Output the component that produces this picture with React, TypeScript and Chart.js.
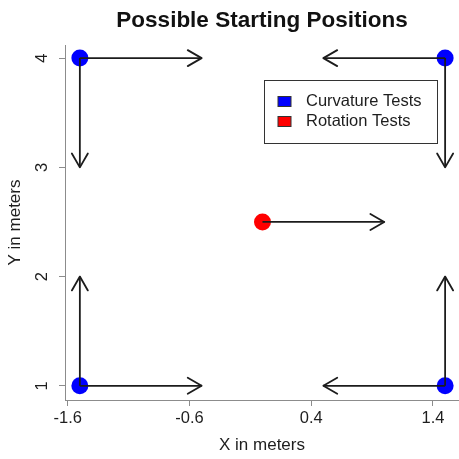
import React, { useEffect, useRef } from "react";
import { Chart, registerables } from "chart.js";

Chart.register(...registerables);

// ---- data ----
const curvatureX = [-1.5, 1.5, -1.5, 1.5];
const curvatureY = [4, 4, 1, 1];
const rotationX = [0];
const rotationY = [2.5];

const arrowFromX = [-1.5, -1.5, 1.5, 1.5, -1.5, -1.5, 1.5, 1.5, 0];
const arrowFromY = [4, 4, 4, 4, 1, 1, 1, 1, 2.5];
const arrowToX = [-0.5, -1.5, 0.5, 1.5, -0.5, -1.5, 0.5, 1.5, 1];
const arrowToY = [4, 3, 4, 3, 1, 2, 1, 2, 2.5];

const xTicks = [-1.6, -0.6, 0.4, 1.4];
const xTickLabels = ["-1.6", "-0.6", "0.4", "1.4"];
const yTicks = [1, 2, 3, 4];
const yTickLabels = ["1", "2", "3", "4"];

const legendLabels = ["Curvature Tests", "Rotation Tests"];
const legendColors = ["#0000FF", "#FF0000"];

const titleText = "Possible Starting Positions";
const xTitleText = "X in meters";
const yTitleText = "Y in meters";

const FONT = '"Liberation Sans", Arial, Helvetica, sans-serif';
const AXIS_GRAY = "#8c8c8c";
const TEXT = "#1e1e1e";
const ARROW = "#1c1c1c";

const overlayPlugin = {
  id: "overlay",
  afterDatasetsDraw(chart: any) {
    const ctx = chart.ctx;
    chart.data.datasets.forEach((ds: any, i: number) => {
      if (!ds.isArrow) return;
      const meta = chart.getDatasetMeta(i);
      const p0 = meta.data[0];
      const p1 = meta.data[1];
      if (!p0 || !p1) return;
      const ang = Math.atan2(p1.y - p0.y, p1.x - p0.x);
      ctx.save();
      ctx.strokeStyle = ARROW;
      ctx.lineWidth = 1.8;
      ctx.lineCap = "round";
      ctx.lineJoin = "round";
      ctx.beginPath();
      for (const s of [-1, 1]) {
        const a = ang + Math.PI + (s * Math.PI) / 6;
        ctx.moveTo(p1.x + 16 * Math.cos(a), p1.y + 16 * Math.sin(a));
        ctx.lineTo(p1.x, p1.y);
      }
      ctx.stroke();
      ctx.restore();
    });
  },
  afterDraw(chart: any) {
    const ctx = chart.ctx;
    const area = chart.chartArea;
    // title
    ctx.save();
    ctx.fillStyle = "#111";
    ctx.font = `bold 22.5px ${FONT}`;
    ctx.textAlign = "center";
    ctx.textBaseline = "alphabetic";
    ctx.fillText(titleText, (area.left + area.right) / 2, 26.7);
    ctx.restore();

    // legend
    const boxRight = area.right - 23;
    const boxLeft = boxRight - 172.5;
    const boxTop = area.top + 35;
    const boxH = 62.5;
    ctx.save();
    ctx.fillStyle = "#ffffff";
    ctx.fillRect(boxLeft, boxTop, boxRight - boxLeft, boxH);
    ctx.strokeStyle = "#333333";
    ctx.lineWidth = 1;
    ctx.strokeRect(Math.round(boxLeft) + 0.5, Math.round(boxTop) + 0.5, Math.round(boxRight - boxLeft), Math.round(boxH));
    ctx.font = `16.5px ${FONT}`;
    ctx.textBaseline = "middle";
    ctx.textAlign = "left";
    legendLabels.forEach((lab, k) => {
      const cy = boxTop + 21.5 + k * 20;
      ctx.fillStyle = legendColors[k];
      ctx.fillRect(boxLeft + 14.5, cy - 5, 13, 10);
      ctx.strokeStyle = "#333";
      ctx.lineWidth = 1;
      ctx.strokeRect(boxLeft + 14.5, cy - 5, 13, 10);
      ctx.fillStyle = TEXT;
      ctx.fillText(lab, boxLeft + 42.5, cy);
    });
    ctx.restore();
  },
};

export default function App() {
  const canvasRef = useRef<HTMLCanvasElement | null>(null);

  useEffect(() => {
    const canvas = canvasRef.current;
    if (!canvas) return;

    const arrowDatasets = arrowFromX.map((x0, i) => ({
      type: "line" as const,
      label: `arrow${i}`,
      isArrow: true,
      data: [
        { x: x0, y: arrowFromY[i] },
        { x: arrowToX[i], y: arrowToY[i] },
      ],
      showLine: true,
      borderColor: ARROW,
      borderWidth: 1.8,
      pointRadius: 0,
      pointHoverRadius: 0,
      fill: false,
      tension: 0,
      order: 0,
    }));

    const chart = new Chart(canvas, {
      type: "scatter",
      data: {
        datasets: [
          ...arrowDatasets,
          {
            label: legendLabels[0],
            data: curvatureX.map((x, i) => ({ x, y: curvatureY[i] })),
            backgroundColor: legendColors[0],
            borderWidth: 0,
            pointRadius: 8.5,
            order: 1,
          },
          {
            label: legendLabels[1],
            data: rotationX.map((x, i) => ({ x, y: rotationY[i] })),
            backgroundColor: legendColors[1],
            borderWidth: 0,
            pointRadius: 8.5,
            order: 1,
          },
        ] as any,
      },
      options: {
        responsive: false,
        maintainAspectRatio: false,
        animation: false,
        devicePixelRatio: 1,
        layout: { autoPadding: false, padding: { top: 45, left: 0, right: 0, bottom: 0 } },
        plugins: {
          legend: { display: false },
          title: { display: false },
          tooltip: { enabled: false },
        },
        scales: {
          x: {
            type: "linear",
            bounds: "data",
            min: -1.622,
            max: 1.614,
            afterBuildTicks: (s: any) => {
              s.ticks = xTicks.map((v) => ({ value: v }));
            },
            afterFit: (s: any) => {
              s.height = 59;
            },
            grid: {
              drawOnChartArea: false,
              drawTicks: true,
              tickLength: 6,
              color: AXIS_GRAY,
              lineWidth: 1,
            },
            border: { display: true, color: AXIS_GRAY, width: 1 },
            ticks: {
              padding: 3,
              color: TEXT,
              font: { family: FONT, size: 16.5 },
              autoSkip: false,
              maxRotation: 0,
              minRotation: 0,
              callback: (_v: any, idx: number) => xTickLabels[idx],
            },
            title: {
              display: true,
              text: xTitleText,
              color: TEXT,
              font: { family: FONT, size: 17 },
              padding: { top: 0, bottom: 3 },
            },
          },
          y: {
            type: "linear",
            bounds: "data",
            min: 0.87,
            max: 4.12,
            afterBuildTicks: (s: any) => {
              s.ticks = yTicks.map((v) => ({ value: v }));
            },
            afterFit: (s: any) => {
              s.width = 65;
            },
            grid: {
              drawOnChartArea: false,
              drawTicks: true,
              tickLength: 6,
              color: AXIS_GRAY,
              lineWidth: 1,
            },
            border: { display: true, color: AXIS_GRAY, width: 1 },
            ticks: {
              padding: 12,
              color: TEXT,
              font: { family: FONT, size: 16.5 },
              autoSkip: false,
              minRotation: 90,
              maxRotation: 90,
              crossAlign: "center",
              callback: (_v: any, idx: number) => yTickLabels[idx],
            },
            title: {
              display: true,
              text: yTitleText,
              color: TEXT,
              font: { family: FONT, size: 17 },
              padding: { top: 5, bottom: 0 },
            },
          },
        },
      } as any,
      plugins: [overlayPlugin],
    });

    return () => chart.destroy();
  }, []);

  return (
    <div style={{ position: "fixed", left: 0, top: 0, width: 459, height: 459, background: "#fff" }}>
      <canvas ref={canvasRef} width={459} height={459} style={{ display: "block" }} />
    </div>
  );
}
